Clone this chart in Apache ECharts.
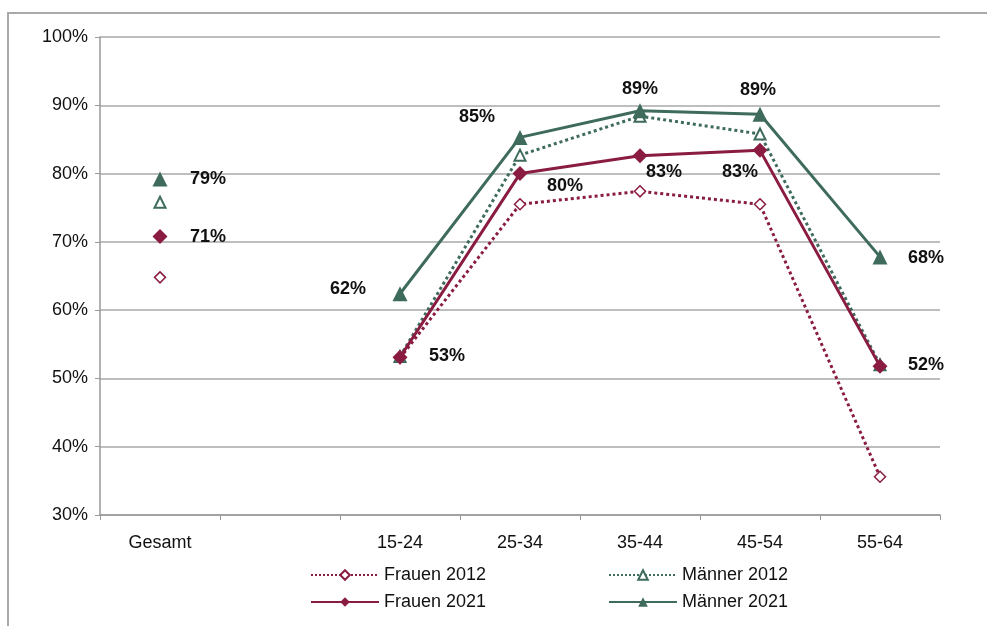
<!DOCTYPE html>
<html>
<head>
<meta charset="utf-8">
<script src="https://cdn.jsdelivr.net/npm/echarts@6/dist/echarts.min.js"></script>
<style>
    html, body { margin: 0; padding: 0; background: #fff; }
    #frame { position: absolute; left: 7px; top: 12px; width: 990px; height: 620px; border-top: 2px solid #a9a9a9; border-left: 2px solid #a9a9a9; }
    #chart { position: absolute; left: 0; top: 0; width: 987px; height: 626px; }
</style>
</head>
<body>
<div id="frame"></div>
<div id="chart"></div>
<script>
// Kategorien (leere Spalte zwischen Gesamt und den Altersgruppen)
var categories = ['Gesamt', '', '15-24', '25-34', '35-44', '45-54', '55-64'];
var yTicks = [30, 40, 50, 60, 70, 80, 90, 100];

// Werte in %
var frauen2012 = [64.8, null, 53.0, 75.5, 77.4, 75.5, 35.6];
var maenner2012 = [75.8, null, 53.2, 82.7, 88.4, 85.8, 52.0];
var frauen2021 = [70.8, null, 53.1, 80.0, 82.6, 83.4, 51.8];
var maenner2021 = [79.2, null, 62.4, 85.3, 89.2, 88.7, 67.8];

var green = '#3e6b5b';
var red = '#8a1c42';
var font = 'Liberation Sans, Arial, sans-serif';

// Lage der Beschriftungen (Pixelversatz vom Punkt)
var offM21 = [[48, 0], null, [-52, -5], [-43, -20], [0, -22], [-2, -24], [46, 1]];
var offF21 = [[48, 1], null, [47, -1], [45, 12], [24, 16], [-20, 22], [46, -1]];

function withLabels(values, offsets) {
    return values.map(function(v, i) {
        if (v == null) return null;
        return {
            value: v,
            label: { show: true, position: 'inside', offset: offsets[i] }
        };
    });
}

(function() {
    var myechart = echarts.init(document.getElementById('chart'));
    var labelStyle = {
        show: true,
        color: '#111',
        fontFamily: font,
        fontWeight: 'bold',
        fontSize: 18,
        formatter: function(p) { return Math.round(p.value) + '%'; }
    };
    var option = {
        animation: false,
        textStyle: { fontFamily: font },
        grid: { left: 100, right: 47, top: 37, bottom: 111 },
        legend: [{
            orient: 'vertical',
            left: 305,
            top: 561,
            itemWidth: 68,
            itemHeight: 12,
            itemGap: 9,
            data: ['Frauen 2012', 'Frauen 2021'],
            textStyle: { fontFamily: font, fontSize: 18, color: '#111' }
        }, {
            orient: 'vertical',
            left: 603,
            top: 561,
            itemWidth: 68,
            itemHeight: 12,
            itemGap: 9,
            data: ['Männer 2012', 'Männer 2021'],
            textStyle: { fontFamily: font, fontSize: 18, color: '#111' }
        }],
        xAxis: {
            type: 'category',
            data: categories,
            boundaryGap: true,
            axisLine: { lineStyle: { color: '#999', width: 1.5 } },
            axisTick: { show: true, length: 5, lineStyle: { color: '#999' } },
            axisLabel: { color: '#111', fontSize: 18, margin: 19, fontFamily: font }
        },
        yAxis: {
            type: 'value',
            min: 30,
            max: 100,
            interval: 10,
            axisLine: { show: true, lineStyle: { color: '#999', width: 1.5 } },
            axisTick: { show: true, length: 5, lineStyle: { color: '#999' } },
            axisLabel: {
                color: '#111', fontSize: 18, margin: 12, fontFamily: font,
                formatter: function(v) { return yTicks.indexOf(v) >= 0 ? v + '%' : ''; }
            },
            splitLine: { lineStyle: { color: '#a8a8a8', width: 1.5 } }
        },
        series: [{
            name: 'Frauen 2012',
            type: 'line',
            data: frauen2012,
            symbol: 'diamond',
            symbolSize: 11,
            itemStyle: { color: '#fff', borderColor: red, borderWidth: 1.5 },
            lineStyle: { color: red, width: 3, type: 'dotted' },
            z: 2
        }, {
            name: 'Männer 2012',
            type: 'line',
            data: maenner2012,
            symbol: 'triangle',
            symbolSize: 11,
            itemStyle: { color: '#fff', borderColor: green, borderWidth: 2 },
            lineStyle: { color: green, width: 3, type: 'dotted' },
            z: 2
        }, {
            name: 'Frauen 2021',
            type: 'line',
            data: withLabels(frauen2021, offF21),
            symbol: 'diamond',
            symbolSize: 15,
            itemStyle: { color: red },
            lineStyle: { color: red, width: 3 },
            label: labelStyle,
            z: 3
        }, {
            name: 'Männer 2021',
            type: 'line',
            data: withLabels(maenner2021, offM21),
            symbol: 'triangle',
            symbolSize: 15,
            itemStyle: { color: green },
            lineStyle: { color: green, width: 3 },
            label: labelStyle,
            z: 3
        }]
    };
    myechart.setOption(option);
})();
</script>
</body>
</html>
